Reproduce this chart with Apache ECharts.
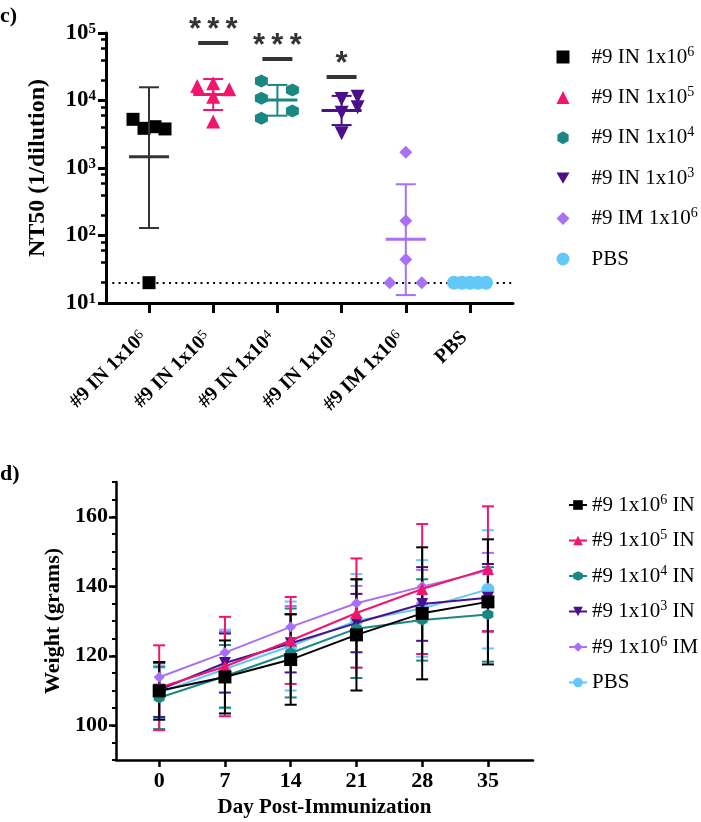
<!DOCTYPE html>
<html><head><meta charset="utf-8">
<script src="https://cdn.jsdelivr.net/npm/echarts@6/dist/echarts.min.js"></script>
<style>html,body{margin:0;padding:0;background:#fff}#c{width:701px;height:822px}</style>
</head><body><div id="c"></div>
<script>
// ---------- Panel c data ----------
const groups = ['#9 IN 1x10^6', '#9 IN 1x10^5', '#9 IN 1x10^4', '#9 IN 1x10^3', '#9 IM 1x10^6', 'PBS'];
const groupPos = [1, 2, 3, 4, 5, 6];
const nt50_IN1e6 = [5260, 3870, 4090, 3790, 20];
const nt50_IN1e5 = [16400, 18000, 14700, 11400, 4870];
const nt50_IN1e4 = [19400, 10800, 5450, 14300, 6980];
const nt50_IN1e3 = [10500, 6610, 3270, 11400, 7940];
const nt50_IM1e6 = [1710, 166, 44, 20, 20];
const nt50_PBS = [20, 20, 20, 20, 20];
const geoMean = [1470, 12300, 10200, 7080, 88, 20];
const errLow = [129, 7230, 5960, 4330, 13.1, 20];
const errHigh = [15700, 20800, 17000, 11700, 574, 20];
const detectionLimit = 20;
const sigLabels = ['', '***', '***', '*', '', ''];
const sigLevel = [null, 71100, 41200, 22300, null, null];
const logTicks = [10, 100, 1000, 10000, 100000];
const logMinorTicks = [20, 40, 60, 80, 200, 400, 600, 800, 2000, 4000, 6000, 8000, 20000, 40000, 60000, 80000];

// ---------- Panel d data ----------
const days = [0, 7, 14, 21, 28, 35];
const weightNames = ['#9 1x10^6 IN', '#9 1x10^5 IN', '#9 1x10^4 IN', '#9 1x10^3 IN', '#9 1x10^6 IM', 'PBS '];
const w_IN1e6 = [109.9, 113.9, 118.9, 126.0, 132.2, 135.5];
const sd_IN1e6 = [8.3, 10.5, 13.0, 16.0, 19.0, 18.0];
const w_IN1e5 = [110.8, 116.9, 124.4, 132.3, 139.2, 145.0];
const sd_IN1e5 = [12.2, 14.3, 12.5, 15.7, 18.7, 18.0];
const w_IN1e4 = [107.9, 114.1, 120.8, 127.8, 130.3, 131.9];
const sd_IN1e4 = [9.0, 9.0, 12.8, 14.2, 11.7, 13.6];
const w_IN1e3 = [110.2, 117.9, 123.6, 129.4, 134.9, 136.7];
const sd_IN1e3 = [7.8, 8.5, 8.4, 8.4, 10.6, 9.7];
const w_IM1e6 = [113.8, 120.9, 128.3, 135.1, 139.9, 144.5];
const sd_IM1e6 = [4.0, 6.0, 6.0, 5.0, 4.8, 5.1];
const w_PBS = [109.3, 116.2, 122.8, 130.0, 133.6, 139.1];
const sd_PBS = [7.3, 11.3, 12.8, 13.5, 13.9, 17.0];
const weightTicks = [100, 120, 140, 160];

// ---------- styles ----------
const SERIF = '"Liberation Serif", "Times New Roman", serif';
const colors = ['#000000', '#f2156e', '#1a8782', '#4a108c', '#a970f5', '#63c8f7'];
const errColors = ['#333333', '#f2156e', '#1a8782', '#4a108c', '#a970f5', '#63c8f7'];
const hexPath = 'path://M0,-1L0.866,-0.5L0.866,0.5L0,1L-0.866,0.5L-0.866,-0.5Z';
const downTri = 'path://M-1,-0.866L1,-0.866L0,0.866Z';
const symbols = ['rect', 'triangle', hexPath, downTri, 'diamond', 'circle'];
const symSizeTop = [13, 14, 13, 14, 13, 14];
const symSizeBot = [13, 12, 11, 12, 11, 13];
const jitterPx = [[-16, -5, 6, 16, 0], [-16, 0, 16, 0, 0], [-16, -16, -16, 15, 15], [0, 0, 0, 16, 16], [0, 0, 0, -16, 16], [-16, -8, 0, 8, 16]];

function sup(s) { return s.trim().replace(/\^(\d+)/g, '{sup|$1}'); }

const nt50Sets = [nt50_IN1e6, nt50_IN1e5, nt50_IN1e4, nt50_IN1e3, nt50_IM1e6, nt50_PBS];
const weightMeans = [w_IN1e6, w_IN1e5, w_IN1e4, w_IN1e3, w_IM1e6, w_PBS];
const weightSds = [sd_IN1e6, sd_IN1e5, sd_IN1e4, sd_IN1e3, sd_IM1e6, sd_PBS];

const series = [];

// top scatter series
groups.forEach((g, gi) => {
  const s = {
    type: 'scatter', name: g, xAxisIndex: 0, yAxisIndex: 0, z: 3,
    symbol: symbols[gi], symbolSize: symSizeTop[gi],
    itemStyle: { color: colors[gi], opacity: 1 },
    data: nt50Sets[gi].map((v, k) => ({ value: [groupPos[gi], v], symbolOffset: [jitterPx[gi][k], 0] })),
    silent: true
  };
  if (gi === 5) {
    s.markLine = {
      silent: true, symbol: 'none', label: { show: false }, z: 1,
      lineStyle: { type: [2, 4.3], width: 2.2, color: '#000' },
      data: [{ yAxis: detectionLimit }]
    };
  }
  series.push(s);
});

// top error bars + mean
series.push({
  type: 'custom', xAxisIndex: 0, yAxisIndex: 0, z: 4, silent: true,
  data: groupPos.map((p, i) => [p, geoMean[i], errLow[i], errHigh[i], i]).filter(d => d[2] !== d[3]),
  renderItem(params, api) {
    const x = api.value(0), gi = api.value(4);
    const pm = api.coord([x, api.value(1)]);
    const pl = api.coord([x, api.value(2)]);
    const ph = api.coord([x, api.value(3)]);
    const c = errColors[gi];
    const st = { stroke: c, lineWidth: 2 };
    return { type: 'group', children: [
      { type: 'line', shape: { x1: pl[0], y1: pl[1], x2: ph[0], y2: ph[1] }, style: st },
      { type: 'line', shape: { x1: pl[0] - 10, y1: pl[1], x2: pl[0] + 10, y2: pl[1] }, style: st },
      { type: 'line', shape: { x1: ph[0] - 10, y1: ph[1], x2: ph[0] + 10, y2: ph[1] }, style: st },
      { type: 'line', shape: { x1: pm[0] - 20, y1: pm[1], x2: pm[0] + 20, y2: pm[1] }, style: { stroke: c, lineWidth: 3 } }
    ]};
  }
});

// significance
series.push({
  type: 'scatter', xAxisIndex: 0, yAxisIndex: 0, z: 5, silent: true,
  symbol: 'rect', symbolSize: [30, 4], itemStyle: { color: '#000' },
  data: groupPos.map((p, i) => ({ value: [p, sigLevel[i]], gi: i })).filter(d => d.value[1] !== null),
  label: {
    show: true, position: 'top', distance: -5,
    formatter: p => sigLabels[p.data.gi].split('').join('\u2009'),
    fontFamily: '"Liberation Sans", Arial, sans-serif', fontWeight: 'bold', fontSize: 31, color: '#000'
  }
});

// bottom error bars
const order = [5, 4, 3, 2, 1, 0];
order.forEach(gi => {
  series.push({
    type: 'custom', xAxisIndex: 1, yAxisIndex: 2, z: 2, silent: true,
    data: days.map((d, i) => [d, weightMeans[gi][i] - weightSds[gi][i], weightMeans[gi][i] + weightSds[gi][i]]),
    renderItem(params, api) {
      const lo = api.coord([api.value(0), api.value(1)]);
      const hi = api.coord([api.value(0), api.value(2)]);
      const st = { stroke: colors[gi], lineWidth: 2 };
      return { type: 'group', children: [
        { type: 'line', shape: { x1: lo[0], y1: lo[1], x2: hi[0], y2: hi[1] }, style: st },
        { type: 'line', shape: { x1: lo[0] - 6, y1: lo[1], x2: lo[0] + 6, y2: lo[1] }, style: st },
        { type: 'line', shape: { x1: hi[0] - 6, y1: hi[1], x2: hi[0] + 6, y2: hi[1] }, style: st }
      ]};
    }
  });
});
order.forEach(gi => {
  series.push({
    type: 'line', name: weightNames[gi], xAxisIndex: 1, yAxisIndex: 2, z: 3 + (5 - gi) * 0.1,
    symbol: symbols[gi], symbolSize: symSizeBot[gi],
    itemStyle: { color: colors[gi] }, lineStyle: { color: colors[gi], width: 2 },
    data: days.map((d, i) => [d, weightMeans[gi][i]]), silent: true
  });
});

const axisLbl = { fontFamily: SERIF, fontWeight: 'bold', color: '#000' };
const supRichBold = { sup: { fontFamily: SERIF, fontWeight: 'bold', fontSize: 15, verticalAlign: 'top', color: '#000' } };
const supRichX = { sup: { fontFamily: SERIF, fontWeight: 'normal', fontSize: 14, verticalAlign: 'top', color: '#000' } };
const supRich = { sup: { fontFamily: SERIF, fontSize: 14, verticalAlign: 'top', color: '#000' } };

const option = {
  animation: false,
  backgroundColor: '#fff',
  graphic: [
    { type: 'text', left: 0, top: 5, style: { text: 'c)', font: 'bold 22px ' + SERIF, fill: '#000' } },
    { type: 'text', left: 0, top: 463, style: { text: 'd)', font: 'bold 22px ' + SERIF, fill: '#000' } }
  ],
  grid: [
    { left: 106, top: 33, width: 407, height: 270 },
    { left: 116, top: 482, width: 417, height: 278 }
  ],
  legend: [
    {
      orient: 'vertical', left: 551.5, top: 40, itemWidth: 13, itemHeight: 13, itemGap: 16.4,
      data: groups, formatter: n => sup(n),
      textStyle: { fontFamily: SERIF, fontSize: 21, color: '#000', lineHeight: 24, padding: [0, 0, 0, 17], rich: supRich }
    },
    {
      orient: 'vertical', left: 563, top: 488, itemWidth: 18, itemHeight: 12, itemGap: 11.5,
      data: weightNames, formatter: n => sup(n),
      textStyle: { fontFamily: SERIF, fontSize: 21, color: '#000', lineHeight: 24, rich: supRich }
    }
  ],
  xAxis: [
    {
      type: 'value', gridIndex: 0, min: 0.33, max: 6.67,
      splitLine: { show: false },
      axisLine: { onZero: false, lineStyle: { color: '#000', width: 3 } },
      axisTick: { customValues: groupPos, length: 10, lineStyle: { color: '#000', width: 3 } },
      axisLabel: Object.assign({ customValues: groupPos, rotate: 45, margin: 26, fontSize: 20, padding: [0, 8, 0, 0],
        formatter: v => sup(groups[Math.round(v) - 1]), rich: supRichX }, axisLbl)
    },
    {
      type: 'value', gridIndex: 1, min: -4.6, max: 39.8,
      name: 'Day Post-Immunization', nameLocation: 'middle', nameGap: 37,
      nameTextStyle: { fontFamily: SERIF, fontWeight: 'bold', fontSize: 21, color: '#000' },
      splitLine: { show: false },
      axisLine: { onZero: false, lineStyle: { color: '#000', width: 2.5 } },
      axisTick: { customValues: days, length: 7, lineStyle: { color: '#000', width: 2.5 } },
      axisLabel: Object.assign({ customValues: days, margin: 10, fontSize: 22 }, axisLbl)
    }
  ],
  yAxis: [
    {
      type: 'log', logBase: 10, gridIndex: 0, min: 10, max: 100000, position: 'left',
      name: 'NT50 (1/dilution)', nameLocation: 'middle', nameGap: 56,
      nameTextStyle: { fontFamily: SERIF, fontWeight: 'bold', fontSize: 24, color: '#000' },
      splitLine: { show: false }, minorTick: { show: false },
      axisLine: { onZero: false, lineStyle: { color: '#000', width: 3 } },
      axisTick: { customValues: logTicks, length: 8, lineStyle: { color: '#000', width: 3 } },
      axisLabel: Object.assign({ customValues: logTicks, margin: 10, fontSize: 23,
        formatter: v => '10{sup|' + Math.round(Math.log10(v)) + '}', rich: supRichBold }, axisLbl)
    },
    {
      type: 'log', logBase: 10, gridIndex: 0, min: 10, max: 100000, position: 'left',
      splitLine: { show: false },
      axisLine: { show: false, onZero: false },
      axisTick: { customValues: logMinorTicks, length: 5, lineStyle: { color: '#000', width: 2.5 } },
      axisLabel: { show: false }
    },
    {
      type: 'value', gridIndex: 1, min: 90, max: 170, position: 'left',
      name: 'Weight (grams)', nameLocation: 'middle', nameGap: 52,
      nameTextStyle: { fontFamily: SERIF, fontWeight: 'bold', fontSize: 22, color: '#000' },
      splitLine: { show: false },
      axisLine: { onZero: false, lineStyle: { color: '#000', width: 2.5 } },
      axisTick: { customValues: weightTicks, length: 7, lineStyle: { color: '#000', width: 2.5 } },
      axisLabel: Object.assign({ customValues: weightTicks, margin: 8, fontSize: 22 }, axisLbl)
    },
    {
      type: 'value', gridIndex: 1, min: 90, max: 170, interval: 5, position: 'left',
      splitLine: { show: false },
      axisLine: { show: false, onZero: false },
      axisTick: { length: 4, lineStyle: { color: '#000', width: 2 } },
      axisLabel: { show: false }
    }
  ],
  series
};

const chart = echarts.init(document.getElementById('c'), null, { renderer: 'canvas' });
chart.setOption(option);
</script>
</body></html>
